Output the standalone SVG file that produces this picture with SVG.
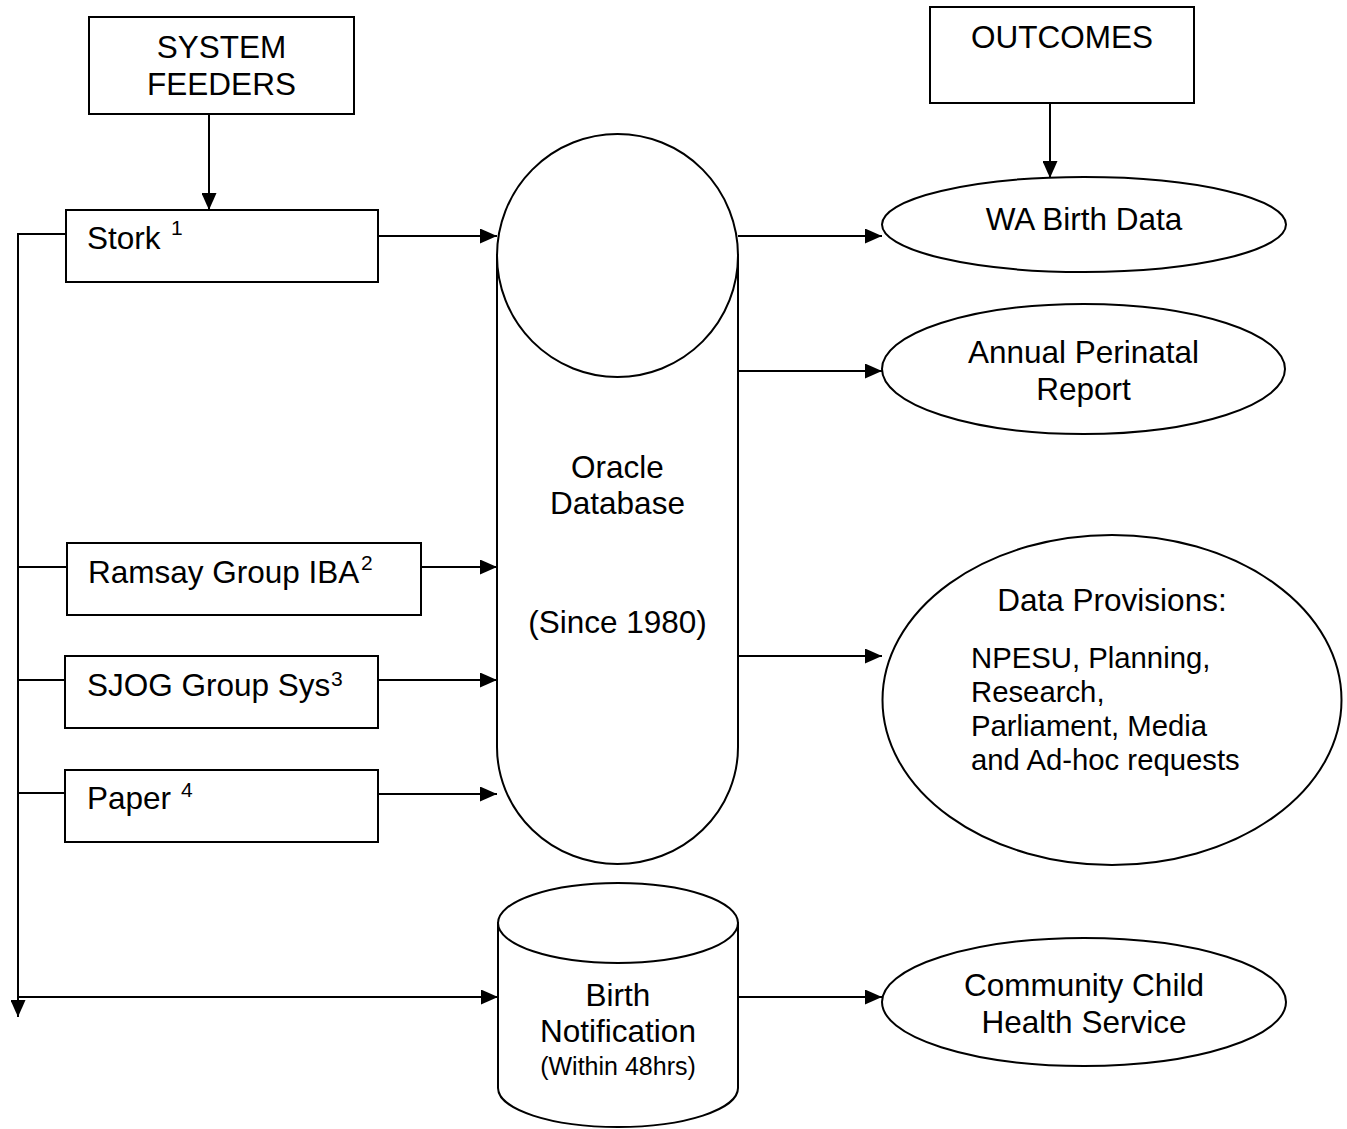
<svg xmlns="http://www.w3.org/2000/svg" width="1347" height="1129" viewBox="0 0 1347 1129">
<style>
.s{fill:#fff;stroke:#000;stroke-width:2}
.n{fill:none;stroke:#000;stroke-width:2}
text{font-family:"Liberation Sans",Arial,sans-serif;font-size:31.5px;fill:#000}
.c{text-anchor:middle}
.sm{font-size:29.3px}
.xs{font-size:25px}
.sup{font-size:21px}
</style>
<defs>
<marker id="ah" markerUnits="userSpaceOnUse" markerWidth="17" markerHeight="15" refX="17" refY="7.5" orient="auto">
<path d="M0,0 L17,7.5 L0,15 z" fill="#000"/>
</marker>
</defs>
<rect width="1347" height="1129" fill="#fff"/>
<g id="connectors">
<line class="n" x1="209" y1="114" x2="209" y2="210" marker-end="url(#ah)"/>
<line class="n" x1="1050" y1="103" x2="1050" y2="178" marker-end="url(#ah)"/>
<polyline class="n" points="66,234 18,234 18,1017" marker-end="url(#ah)"/>
<line class="n" x1="18" y1="567" x2="67" y2="567"/>
<line class="n" x1="18" y1="680" x2="65" y2="680"/>
<line class="n" x1="18" y1="793" x2="65" y2="793"/>
<line class="n" x1="18" y1="997" x2="498" y2="997" marker-end="url(#ah)"/>
<line class="n" x1="378" y1="236" x2="497" y2="236" marker-end="url(#ah)"/>
<line class="n" x1="421" y1="567" x2="497" y2="567" marker-end="url(#ah)"/>
<line class="n" x1="378" y1="680" x2="497" y2="680" marker-end="url(#ah)"/>
<line class="n" x1="378" y1="794" x2="497" y2="794" marker-end="url(#ah)"/>
<line class="n" x1="738" y1="236" x2="882" y2="236" marker-end="url(#ah)"/>
<line class="n" x1="738" y1="371" x2="882" y2="371" marker-end="url(#ah)"/>
<line class="n" x1="738" y1="656" x2="882" y2="656" marker-end="url(#ah)"/>
<line class="n" x1="738" y1="997" x2="882" y2="997" marker-end="url(#ah)"/>
</g>
<g id="system-feeders">
<rect class="s" x="89" y="17" width="265" height="97"/>
<text class="c" x="221.5" y="58">SYSTEM</text>
<text class="c" x="221.5" y="95">FEEDERS</text>
</g>
<g id="outcomes">
<rect class="s" x="930" y="7" width="264" height="96"/>
<text class="c" x="1062" y="48">OUTCOMES</text>
</g>
<g id="stork">
<rect class="s" x="66" y="210" width="312" height="72"/>
<text x="87" y="249">Stork</text>
<text class="sup" x="171" y="235">1</text>
</g>
<g id="ramsay">
<rect class="s" x="67" y="543" width="354" height="72"/>
<text x="88" y="583">Ramsay Group IBA</text>
<text class="sup" x="361" y="570">2</text>
</g>
<g id="sjog">
<rect class="s" x="65" y="656" width="313" height="72"/>
<text x="87" y="696">SJOG Group Sys</text>
<text class="sup" x="331" y="686">3</text>
</g>
<g id="paper">
<rect class="s" x="65" y="770" width="313" height="72"/>
<text x="87" y="809">Paper</text>
<text class="sup" x="181" y="797">4</text>
</g>
<g id="oracle">
<path class="s" d="M497,255 L497,747 A120.5,117 0 0 0 738,747 L738,255 Z"/>
<ellipse class="s" cx="617.5" cy="255.5" rx="120.5" ry="121.5"/>
<text class="c" x="617.5" y="478">Oracle</text>
<text class="c" x="617.5" y="514">Database</text>
<text class="c" x="617.5" y="633">(Since 1980)</text>
</g>
<g id="birth-notification">
<path class="s" d="M498,923 L498,1088 A120,39 0 0 0 738,1088 L738,923 Z"/>
<ellipse class="s" cx="618" cy="923" rx="120" ry="40"/>
<text class="c" x="618" y="1006">Birth</text>
<text class="c" x="618" y="1042">Notification</text>
<text class="c xs" x="618" y="1075">(Within 48hrs)</text>
</g>
<g id="wa-birth-data">
<ellipse class="s" cx="1084" cy="224.5" rx="202" ry="47.5"/>
<text class="c" x="1084" y="230">WA Birth Data</text>
</g>
<g id="annual-report">
<ellipse class="s" cx="1083.5" cy="369" rx="201.5" ry="65"/>
<text class="c" x="1083.5" y="363">Annual Perinatal</text>
<text class="c" x="1083.5" y="400">Report</text>
</g>
<g id="data-provisions">
<ellipse class="s" cx="1112" cy="700" rx="229.5" ry="165"/>
<text class="c" x="1112" y="611">Data Provisions:</text>
<text class="sm" x="971" y="668">NPESU, Planning,</text>
<text class="sm" x="971" y="702">Research,</text>
<text class="sm" x="971" y="736">Parliament, Media</text>
<text class="sm" x="971" y="770">and Ad-hoc requests</text>
</g>
<g id="community-child-health">
<ellipse class="s" cx="1084" cy="1002" rx="202" ry="64"/>
<text class="c" x="1084" y="996">Community Child</text>
<text class="c" x="1084" y="1033">Health Service</text>
</g>
</svg>
